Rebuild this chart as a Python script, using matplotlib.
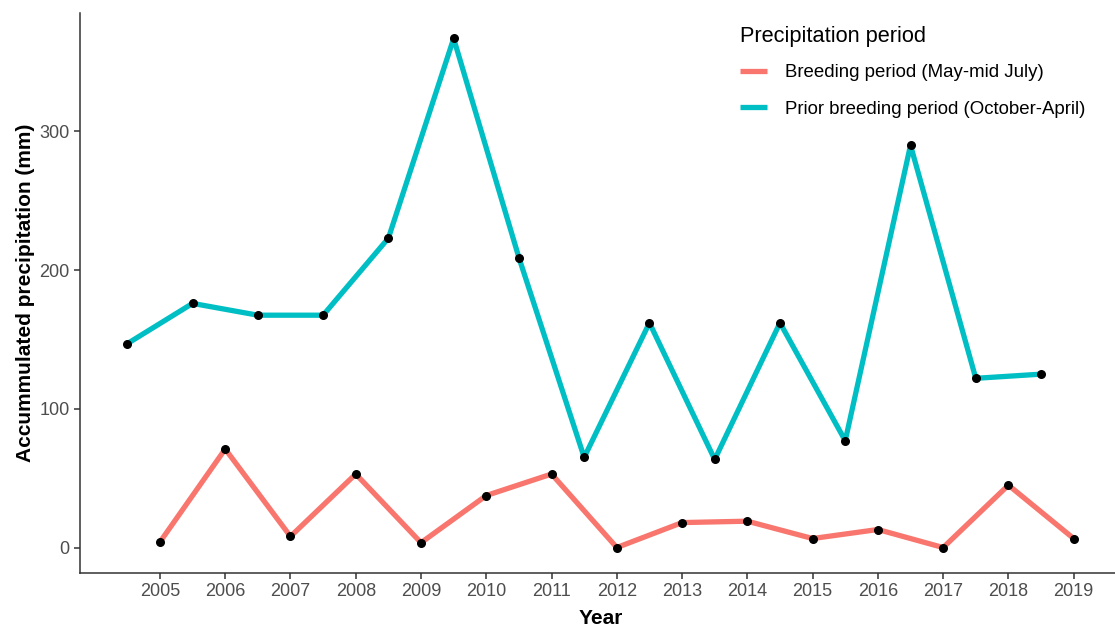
import matplotlib.pyplot as plt
import numpy as np

plt.rcParams['font.family'] = ['Liberation Sans', 'DejaVu Sans']

# breeding period (May - mid July), plotted on the year
breeding_years = [2005, 2006, 2007, 2008, 2009, 2010, 2011, 2012,
                  2013, 2014, 2015, 2016, 2017, 2018, 2019]
breeding_precip = [4, 71, 8, 53, 3.5, 37.5, 53, 0,
                   18, 19, 6.5, 13, 0, 45, 6.5]

# prior breeding period (October - April), plotted half a year earlier
prior_years = [2004.5, 2005.5, 2006.5, 2007.5, 2008.5, 2009.5, 2010.5, 2011.5,
               2012.5, 2013.5, 2014.5, 2015.5, 2016.5, 2017.5, 2018.5]
prior_precip = [147, 176, 167.5, 167.5, 223, 367, 209, 65,
                162, 63.5, 162, 77, 290, 122, 125]

year_ticks = list(range(2005, 2020))

fig = plt.figure(figsize=(11.15, 6.3), dpi=100)
ax = fig.add_axes([80 / 1115, 1 - 573 / 630, 1041 / 1115, 560 / 630])

ax.plot(breeding_years, breeding_precip, color="#F8766D", lw=3.8,
        solid_joinstyle="round", solid_capstyle="butt",
        label="Breeding period (May-mid July)", zorder=2)
ax.plot(prior_years, prior_precip, color="#00BFC4", lw=3.8,
        solid_joinstyle="round", solid_capstyle="butt",
        label="Prior breeding period (October-April)", zorder=2)
ax.scatter(breeding_years, breeding_precip, s=30, color="black", zorder=3)
ax.scatter(prior_years, prior_precip, s=30, color="black", zorder=3)

ax.set_xlim(2003.775, 2019.725)
ax.set_ylim(-18.35, 385.35)
ax.set_xticks(year_ticks)
ax.set_yticks([0, 100, 200, 300])
ax.tick_params(colors="#333333", labelcolor="#4D4D4D", labelsize=13,
               length=4, width=1.1)
for side in ["top", "right"]:
    ax.spines[side].set_visible(False)
for side in ["left", "bottom"]:
    ax.spines[side].set_color("#333333")
    ax.spines[side].set_linewidth(1.1)

ax.set_xlabel("Year", fontsize=15, fontweight="bold", labelpad=6)
ax.set_ylabel("Accummulated precipitation (mm)", fontsize=15,
              fontweight="bold", labelpad=3)

leg = ax.legend(title="Precipitation period", loc="upper left",
                bbox_to_anchor=(0.618, 1.006), frameon=False, fontsize=13.4,
                title_fontsize=15.7, handlelength=1.45, handletextpad=0.95,
                labelspacing=1.05)
leg._legend_box.align = "left"
leg._legend_box.sep = 12

fig.savefig("out.png", dpi=100)
